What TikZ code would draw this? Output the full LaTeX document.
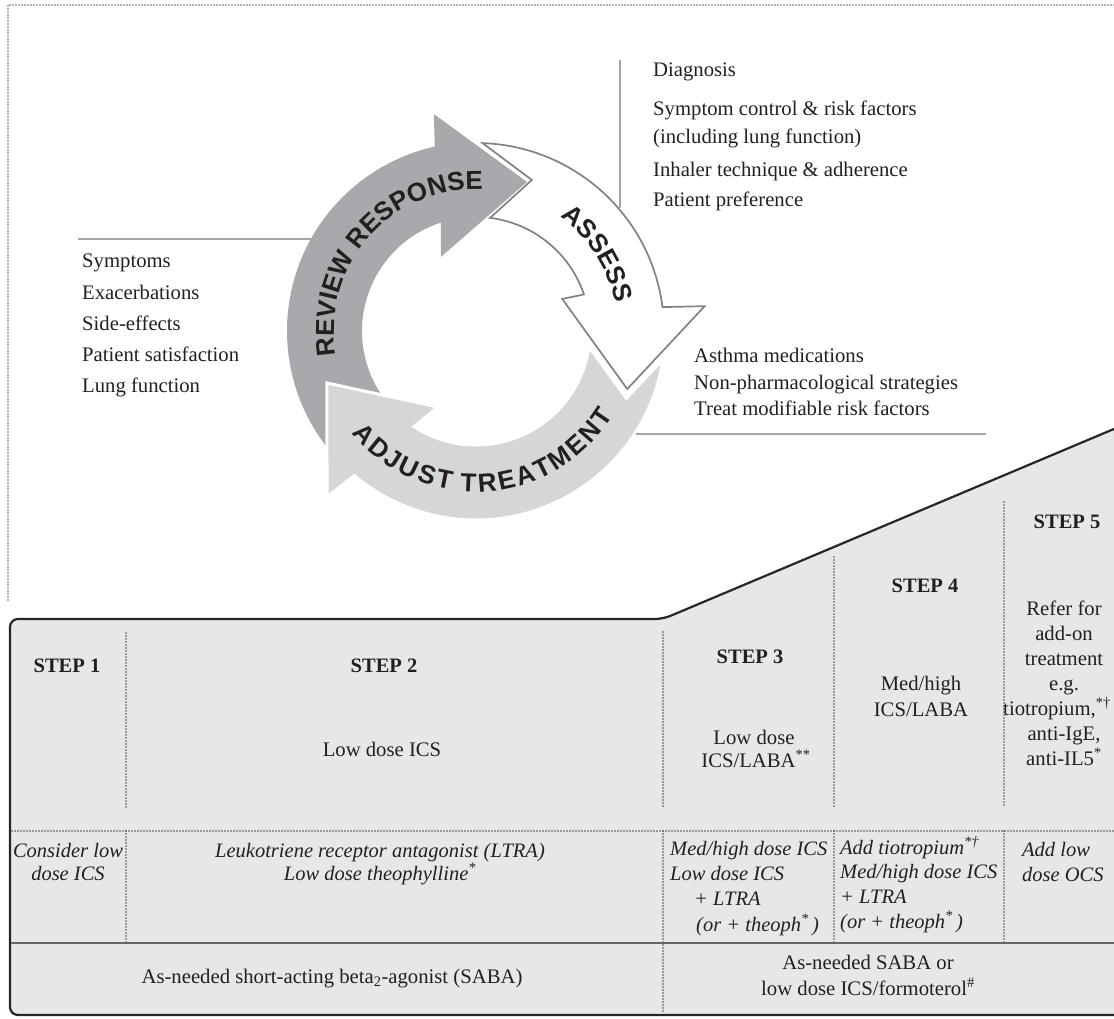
\documentclass[tikz,border=0pt]{standalone}
\usepackage{fontspec}
\setmainfont{Liberation Serif}
\setsansfont{Liberation Sans}
\usepackage{xcolor}
\definecolor{revgray}{HTML}{A7A9AC}
\definecolor{adjgray}{HTML}{D5D6D8}
\definecolor{assline}{HTML}{808285}
\definecolor{stepfill}{HTML}{E7E7EA}
\definecolor{leadgray}{HTML}{A5A5A5}
\definecolor{ink}{HTML}{231F20}
\usetikzlibrary{decorations.text}
\newcommand{\cycfont}{\sffamily\bfseries\fontsize{26}{26}\selectfont}
\tikzset{
  body/.style={font=\fontsize{20.7}{24}\selectfont, text=ink, inner sep=0pt},
  lbody/.style={body, anchor=base west},
  cbody/.style={body, anchor=base},
  ibody/.style={body, font=\fontsize{20.5}{24}\selectfont\itshape},
  steplab/.style={body, anchor=base, font=\fontsize{20.5}{24}\selectfont\bfseries},
  lead/.style={draw=leadgray, line width=2pt},
  framedots/.style={draw=black!60, line width=1.6pt, line cap=round, dash pattern=on 0pt off 3pt},
  dotline/.style={draw=black!70, line width=1.8pt, line cap=round, dash pattern=on 0pt off 3pt},
  stepbox/.style={fill=stepfill, draw=black!85, line width=2.2pt},
  cyc/.style={decorate, decoration={text along path, text align=center,
              text color=ink, text={|\cycfont|#1}}},
}

\begin{document}
\begin{tikzpicture}[x=1pt, y=1pt]
  \useasboundingbox (0,0) rectangle (1114,-1019);
  \clip (0,0) rectangle (1114,-1019);

  % panel of the cycle
  \draw[framedots] (8,-600) -- (8,-5) -- (1114,-5);

  % step table
  \draw[stepbox, rounded corners=8pt] (1140,-1015) -- (10,-1015) -- (10,-619)
    -- (663,-619) -- (1140,-418) -- cycle;
  \foreach \x/\top in {126/633, 663/632, 834/557, 1004/502}
    \draw[dotline] (\x,-\top) -- (\x,-807);
  \foreach \x in {126, 834, 1004}
    \draw[dotline] (\x,-831) -- (\x,-943);
  \draw[dotline] (663,-831) -- (663,-1013);
  \draw[dotline] (12,-831) -- (1114,-831);
  \draw[draw=black!60, line width=1.6pt] (11,-943) -- (1114,-943);

  % cycle
  \begin{scope}[shift={(476,-331)}]
    \fill[revgray] (222:189) arc[start angle=222, end angle=102.6, radius=189]
      -- (101:221) -- (71.1:157.5) -- (115.3:82) -- (108:114)
      arc[start angle=108, end angle=226, radius=114] -- cycle;
    \filldraw[fill=white, draw=assline, line width=1.7pt]
      (88:188) arc[start angle=88, end angle=7.3, radius=188]
      -- (6.2:230) -- (-21:162) -- (20.4:92) -- (18.7:114)
      arc[start angle=18.7, end angle=82.9, radius=114] -- (69.7:161) -- cycle;
    \filldraw[fill=adjgray, draw=white, line width=3pt]
      (-8.7:189) arc[start angle=-8.7, end angle=-130.1, radius=189]
      -- (-131.9:223) -- (-160.8:158) -- (-116.6:85) -- (-123:114)
      arc[start angle=-123, end angle=-7.9, radius=114] -- (-24.1:164.8) -- cycle;
    \path[cyc={REVIEW RESPONSE}] (200:142) arc[start angle=200, end angle=77, radius=142];
    \path[cyc=ASSESS] (75:142) arc[start angle=75, end angle=-10, radius=142];
    \path[cyc={{A\kern2.5pt}{D\kern2.5pt}{J\kern2.5pt}{U\kern2.5pt}{S\kern2.5pt}{T\kern2.5pt} {T\kern2.5pt}{R\kern2.5pt}{E\kern2.5pt}{A\kern2.5pt}{T\kern2.5pt}{M\kern2.5pt}{E\kern2.5pt}{N\kern2.5pt}T}]
      (212:161) arc[start angle=212, end angle=336, radius=161];
  \end{scope}

  % review list
  \foreach \t [count=\i] in {Symptoms, Exacerbations, Side-effects, Patient satisfaction, Lung function}
    \node[lbody] (rv\i) at (82,{-268-31*(\i-1)}) {\t};
  % assess list
  \node[lbody] (as1) at (653,-77) {Diagnosis};
  \node[lbody] (as2) at (653,-116) {Symptom control \& risk factors};
  \node[lbody] (as3) at (653,-144) {(including lung function)};
  \node[lbody] (as4) at (653,-177) {Inhaler technique \& adherence};
  \node[lbody] (as5) at (653,-207) {Patient preference};
  % adjust list
  \node[lbody] (ad1) at (694,-362) {Asthma medications};
  \node[lbody] (ad2) at (694,-389) {Non-pharmacological strategies};
  \node[lbody] (ad3) at (694,-415) {Treat modifiable risk factors};

  \coordinate (rvend) at (78,-239);
  \coordinate (rvring) at (311,-239);
  \coordinate (asend) at (620,-60);
  \coordinate (asring) at (620,-208);
  \coordinate (adring) at (636,-434);
  \coordinate (adend) at (986,-434);
  \draw[lead] (rvend) -- (rvring);
  \draw[lead] (asend) -- (asring);
  \draw[lead] (adring) -- (adend);

  % steps
  \node[steplab] (s1) at (67,-672) {STEP 1};
  \node[steplab] (s2) at (384,-672) {STEP 2};
  \node[steplab] (s3) at (750,-663) {STEP 3};
  \node[steplab] (s4) at (925,-592) {STEP 4};
  \node[steplab] (s5) at (1067,-528) {STEP 5};

  \node[cbody] (c2) at (382,-756) {Low dose ICS};
  \node[cbody] (c3a) at (754,-744) {Low dose};
  \node[cbody] (c3b) at (756,-767) {ICS/LABA\textsuperscript{**}};
  \node[cbody] (c4a) at (921,-690) {Med/high};
  \node[cbody] (c4b) at (921,-716) {ICS/LABA};
  \foreach \t [count=\i] in {Refer for, add-on, treatment, e.g.}
    \node[cbody] (c5\i) at (1064,{-615-25*(\i-1)}) {\t};
  \node[body, anchor=base east] (c55) at (1111,-715) {tiotropium,\textsuperscript{*†}};
  \node[cbody] (c56) at (1064,-740) {anti-IgE,};
  \node[cbody] (c57) at (1064,-765) {anti-IL5\textsuperscript{*}};

  % other controller options
  \node[ibody, anchor=base] (o1a) at (68,-857) {Consider low};
  \node[ibody, anchor=base] (o1b) at (68,-880) {dose ICS};
  \node[ibody, anchor=base] (o2a) at (380,-857) {Leukotriene receptor antagonist (LTRA)};
  \node[ibody, anchor=base] (o2b) at (380,-880) {Low dose theophylline\textsuperscript{*}};
  \node[ibody, anchor=base west] (o3a) at (670,-855) {Med/high dose ICS};
  \node[ibody, anchor=base west] (o3b) at (670,-880) {Low dose ICS};
  \node[ibody, anchor=base west] (o3c) at (694,-905) {+ LTRA};
  \node[ibody, anchor=base west] (o3d) at (696,-931) {(or + theoph\textsuperscript{*}\,)};
  \node[ibody, anchor=base west] (o4a) at (840,-854) {Add tiotropium\textsuperscript{*†}};
  \node[ibody, anchor=base west] (o4b) at (840,-878) {Med/high dose ICS};
  \node[ibody, anchor=base west] (o4c) at (840,-903) {+ LTRA};
  \node[ibody, anchor=base west] (o4d) at (840,-928) {(or + theoph\textsuperscript{*}\,)};
  \node[ibody, anchor=base west] (o5a) at (1022,-856) {Add low};
  \node[ibody, anchor=base west] (o5b) at (1022,-881) {dose OCS};

  % reliever
  \node[cbody] (rl1) at (332,-983) {As-needed short-acting beta\textsubscript{2}-agonist (SABA)};
  \node[cbody] (rl2) at (868,-969) {As-needed SABA or};
  \node[cbody] (rl3) at (868,-995) {low dose ICS/formoterol\textsuperscript{\#}};
\end{tikzpicture}
\end{document}
